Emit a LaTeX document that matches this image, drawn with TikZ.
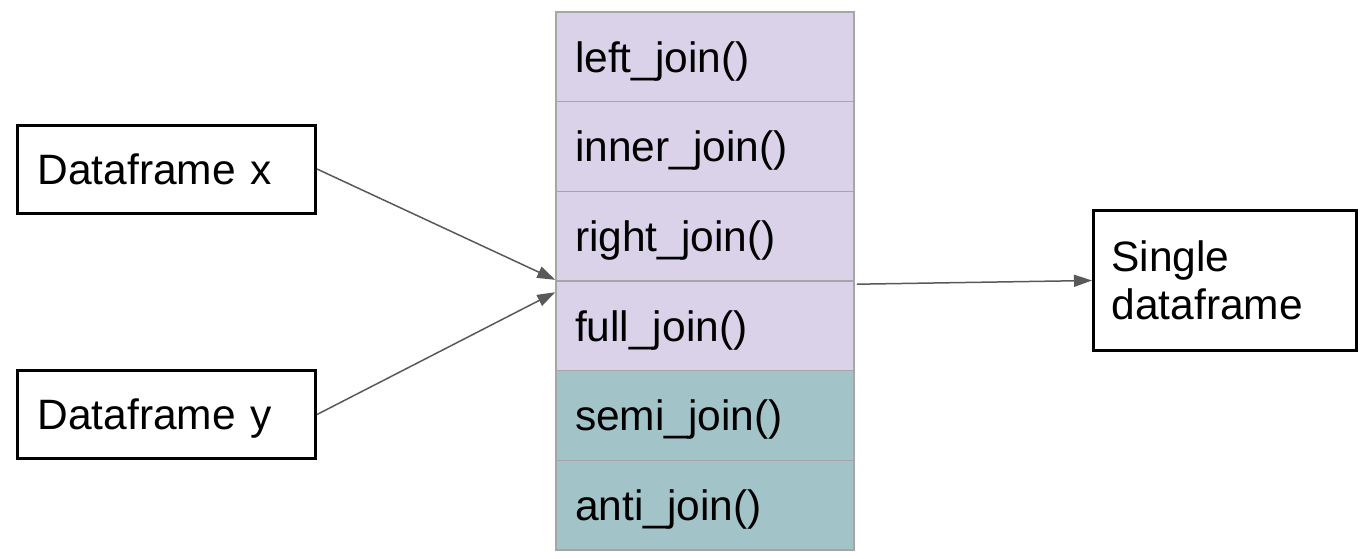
\documentclass[tikz,border=0pt]{standalone}
\usepackage{fontspec}
\setmainfont{Liberation Sans}
\usetikzlibrary{arrows.meta,calc}
\definecolor{joinpurple}{HTML}{D9D2E9}
\definecolor{jointeal}{HTML}{A2C4C9}
\definecolor{rowline}{HTML}{A6A6A6}
\definecolor{arrowgray}{HTML}{595959}
\begin{document}
\begin{tikzpicture}[x=1pt,y=-1pt,
  txt/.style={font=\fontsize{42.5}{48}\selectfont, align=left, text height=30.4pt, text depth=0pt, inner ysep=0pt, inner xsep=18pt},
  rowbox/.style={txt, draw=rowline, line width=1.5pt, minimum height=89.7pt, inner xsep=19pt, text width=260pt},
  purplerow/.style={rowbox, fill=joinpurple},
  tealrow/.style={rowbox, fill=jointeal},
  framebox/.style={txt, draw=black, line width=3pt},
  conn/.style={draw=arrowgray, line width=1.5pt, -{Triangle[length=18pt,width=12pt]}}
]
\useasboundingbox (0,0) rectangle (1372,558);
\node[purplerow] (r1) at (705,56.8) {left\_join()};
\node[purplerow] (r2) at (705,146.5) {inner\_join()};
\node[purplerow] (r3) at (705,236.2) {right\_join()};
\node[purplerow] (r4) at (705,325.8) {full\_join()};
\node[tealrow] (r5) at (705,415.5) {semi\_join()};
\node[tealrow] (r6) at (705,505.2) {anti\_join()};
\node[framebox, inner xsep=20pt, text width=258pt, minimum height=88pt] (dx) at (166.5,169) {Dataframe x};
\node[framebox, inner xsep=20pt, text width=258pt, minimum height=88pt] (dy) at (166.5,414.5) {Dataframe y};
\node[framebox, text width=227pt, text depth=48pt, minimum height=140pt] (out) at (1225,280.5) {Single\\dataframe};
\coordinate (inx) at ($(r3.south west)+(0,-2)$);
\coordinate (iny) at ($(r4.north west)+(0,12)$);
\coordinate (src) at ($(r4.north east)+(2,4)$);
\draw[conn] (dx.east) -- (inx);
\draw[conn] (dy.east) -- (iny);
\draw[conn] (src) -- (out.west);
\end{tikzpicture}
\end{document}
